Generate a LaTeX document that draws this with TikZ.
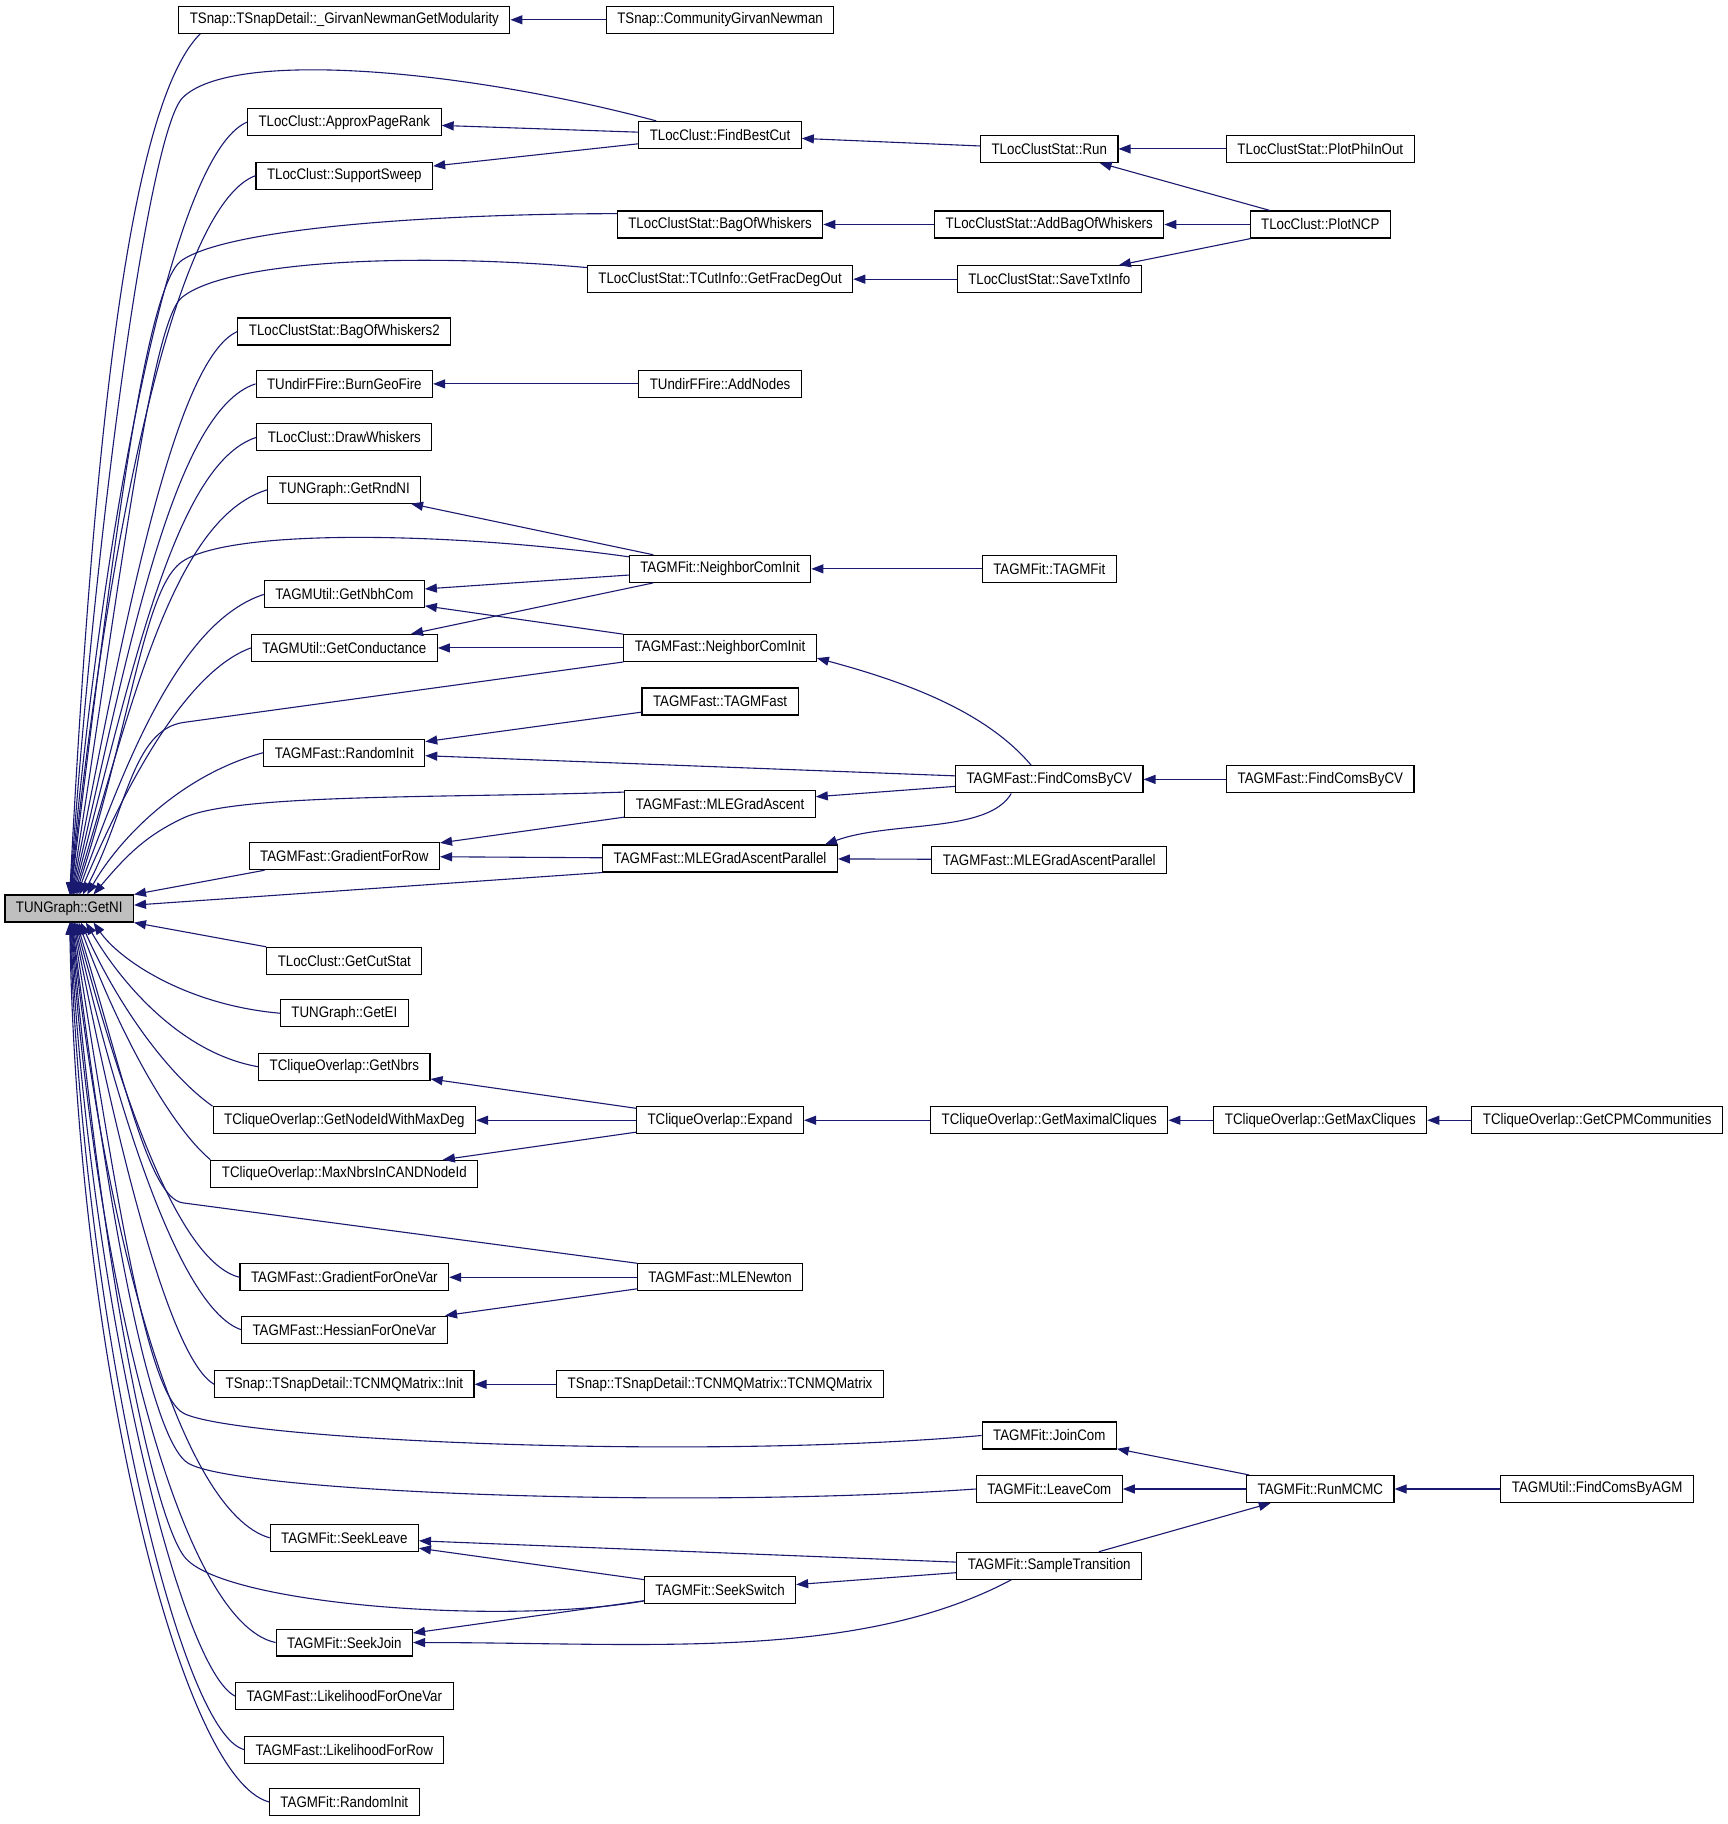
\documentclass[tikz,border=0pt]{standalone}
\usepackage{fontspec}
\newfontfamily\doxfont{Liberation Sans}[FakeStretch=0.87]
\usetikzlibrary{arrows.meta}
\definecolor{dxedge}{HTML}{191970}
\definecolor{dxroot}{HTML}{BFBFBF}
\tikzset{
  fn/.style={draw=black,line width=1.1pt,fill=white,font=\doxfont\fontsize{15.3pt}{16pt}\selectfont,
    inner xsep=11pt,inner ysep=0pt,minimum height=27pt},
  call/.style={<-,>={Triangle[length=12pt,width=9pt]},color=dxedge,line width=1.1pt}
}
\begin{document}
\begin{tikzpicture}[x=1.1636pt,y=1.1636pt]
 \path[use as bounding box,fill=white] (0,0) rectangle (1485,-1568);

 \node [fn,fill=dxroot] (GetNI) at (59.5,-781) {TUNGraph::GetNI};

 \node [fn] (girvan) at (296,-17) {TSnap::TSnapDetail::\_GirvanNewmanGetModularity};
 \node [fn] (approx) at (296,-105) {TLocClust::ApproxPageRank};
 \node [fn] (sweep) at (296,-151) {TLocClust::SupportSweep};
 \node [fn] (bow2) at (296,-285) {TLocClustStat::BagOfWhiskers2};
 \node [fn] (burn) at (296,-330) {TUndirFFire::BurnGeoFire};
 \node [fn] (drawwh) at (296,-376) {TLocClust::DrawWhiskers};
 \node [fn] (rndni) at (296,-421) {TUNGraph::GetRndNI};
 \node [fn] (nbhcom) at (296,-511) {TAGMUtil::GetNbhCom};
 \node [fn] (conduct) at (296,-557) {TAGMUtil::GetConductance};
 \node [fn] (frandinit) at (296,-647) {TAGMFast::RandomInit};
 \node [fn] (gradrow) at (296,-736) {TAGMFast::GradientForRow};
 \node [fn] (cutstat) at (296,-826) {TLocClust::GetCutStat};
 \node [fn] (getei) at (296,-871) {TUNGraph::GetEI};
 \node [fn] (getnbrs) at (296,-917) {TCliqueOverlap::GetNbrs};
 \node [fn] (maxdeg) at (296,-963) {TCliqueOverlap::GetNodeIdWithMaxDeg};
 \node [fn] (maxnbrs) at (296,-1009) {TCliqueOverlap::MaxNbrsInCANDNodeId};
 \node [fn] (gradvar) at (296,-1098) {TAGMFast::GradientForOneVar};
 \node [fn] (hessvar) at (296,-1143) {TAGMFast::HessianForOneVar};
 \node [fn] (cnminit) at (296,-1190) {TSnap::TSnapDetail::TCNMQMatrix::Init};
 \node [fn] (seekleave) at (296,-1322) {TAGMFit::SeekLeave};
 \node [fn] (seekjoin) at (296,-1412) {TAGMFit::SeekJoin};
 \node [fn] (likevar) at (296,-1458) {TAGMFast::LikelihoodForOneVar};
 \node [fn] (likerow) at (296,-1504) {TAGMFast::LikelihoodForRow};
 \node [fn] (fitrandinit) at (296,-1549) {TAGMFit::RandomInit};

 \node [fn] (gncomm) at (619,-17) {TSnap::CommunityGirvanNewman};
 \node [fn] (bestcut) at (619,-116) {TLocClust::FindBestCut};
 \node [fn] (bow) at (619,-193) {TLocClustStat::BagOfWhiskers};
 \node [fn] (fracdeg) at (619,-240) {TLocClustStat::TCutInfo::GetFracDegOut};
 \node [fn] (addnodes) at (619,-330) {TUndirFFire::AddNodes};
 \node [fn] (fitnci) at (619,-489) {TAGMFit::NeighborComInit};
 \node [fn] (fastnci) at (619,-557) {TAGMFast::NeighborComInit};
 \node [fn] (fasttagm) at (619,-603) {TAGMFast::TAGMFast};
 \node [fn] (mlegrad) at (619,-691) {TAGMFast::MLEGradAscent};
 \node [fn] (mlepar) at (619,-738) {TAGMFast::MLEGradAscentParallel};
 \node [fn] (expand) at (619,-963) {TCliqueOverlap::Expand};
 \node [fn] (mlenewton) at (619,-1098) {TAGMFast::MLENewton};
 \node [fn] (tcnmq) at (619,-1190) {TSnap::TSnapDetail::TCNMQMatrix::TCNMQMatrix};
 \node [fn] (seekswitch) at (619,-1367) {TAGMFit::SeekSwitch};

 \node [fn] (run) at (902,-128) {TLocClustStat::Run};
 \node [fn] (addbow) at (902,-193) {TLocClustStat::AddBagOfWhiskers};
 \node [fn] (savetxt) at (902,-240) {TLocClustStat::SaveTxtInfo};
 \node [fn] (tagmfit) at (902,-489) {TAGMFit::TAGMFit};
 \node [fn] (findcv) at (902,-670) {TAGMFast::FindComsByCV};
 \node [fn] (mlepar2) at (902,-739) {TAGMFast::MLEGradAscentParallel};
 \node [fn] (maximal) at (902,-963) {TCliqueOverlap::GetMaximalCliques};
 \node [fn] (joincom) at (902,-1234) {TAGMFit::JoinCom};
 \node [fn] (leavecom) at (902,-1280) {TAGMFit::LeaveCom};
 \node [fn] (sample) at (902,-1346) {TAGMFit::SampleTransition};

 \node [fn] (plotphi) at (1135,-128) {TLocClustStat::PlotPhiInOut};
 \node [fn] (plotncp) at (1135,-193) {TLocClust::PlotNCP};
 \node [fn] (findcv2) at (1135,-670) {TAGMFast::FindComsByCV};
 \node [fn] (maxcliques) at (1135,-963) {TCliqueOverlap::GetMaxCliques};
 \node [fn] (runmcmc) at (1135,-1280) {TAGMFit::RunMCMC};

 \node [fn] (cpm) at (1373,-963) {TCliqueOverlap::GetCPMCommunities};
 \node [fn] (agm) at (1373,-1280) {TAGMUtil::FindComsByAGM};

 \draw[call] (GetNI.88) .. controls +(87:370) and +(225:90) .. ([xshift=22pt]girvan.south west);
 \draw[call] (GetNI.87) .. controls +(86:330) and +(225:40) .. (157,-84)
   .. controls +(45:60) and +(165:170) .. ([xshift=18pt]bestcut.north west);
 \draw[call] (GetNI.86) .. controls +(85:320) and +(203:70) .. (approx.west);
 \draw[call] (GetNI.85) .. controls +(84:300) and +(200:75) .. (sweep.west);
 \draw[call] (GetNI.84) .. controls +(83:270) and +(215:40) .. (156,-224)
   .. controls +(35:50) and +(180:150) .. (bow.174);
 \draw[call] (GetNI.82) .. controls +(81:250) and +(220:35) .. (156,-256)
   .. controls +(40:50) and +(175:150) .. (fracdeg.175);
 \draw[call] (GetNI.80) .. controls +(79:230) and +(204:60) .. (bow2.west);
 \draw[call] (GetNI.77) .. controls +(77:210) and +(198:75) .. (burn.west);
 \draw[call] (GetNI.74) .. controls +(75:190) and +(198:75) .. (drawwh.west);
 \draw[call] (GetNI.70) .. controls +(73:170) and +(197:85) .. (rndni.west);
 \draw[call] (GetNI.65) .. controls +(72:150) and +(218:40) .. (155,-484)
   .. controls +(38:50) and +(172:150) .. ([yshift=-2pt]fitnci.north west);
 \draw[call] (GetNI.60) .. controls +(70:125) and +(198:75) .. (nbhcom.west);
 \draw[call] (GetNI.54) .. controls +(67:100) and +(200:60) .. (conduct.west);
 \draw[call] (GetNI.46) .. controls +(62:80) and +(188:45) .. (158,-621) -- (fastnci.south west);
 \draw[call] (GetNI.38) .. controls +(60:60) and +(195:70) .. (frandinit.west);
 \draw[call] (GetNI.30) .. controls +(50:45) and +(205:35) .. (158,-703)
   .. controls +(25:50) and +(182:150) .. (mlegrad.173);
 \draw[call] (GetNI.north east) -- (gradrow.190);
 \draw[call] (GetNI.3) -- (mlepar.south west);

 \draw[call] (GetNI.south east) -- (cutstat.north west);
 \draw[call] (GetNI.-30) .. controls +(-55:40) and +(175:80) .. (getei.west);
 \draw[call] (GetNI.-40) .. controls +(-60:55) and +(170:70) .. (getnbrs.west);
 \draw[call] (GetNI.-50) .. controls +(-66:80) and +(145:45) .. (maxdeg.north west);
 \draw[call] (GetNI.-56) .. controls +(-70:100) and +(140:45) .. (maxnbrs.north west);
 \draw[call] (GetNI.-62) .. controls +(-73:130) and +(172:30) .. (157,-1034) -- (mlenewton.north west);
 \draw[call] (GetNI.-66) .. controls +(-75:150) and +(166:55) .. (gradvar.west);
 \draw[call] (GetNI.-70) .. controls +(-77:170) and +(161:55) .. (hessvar.west);
 \draw[call] (GetNI.-73) .. controls +(-79:190) and +(150:45) .. (cnminit.west);
 \draw[call] (GetNI.-76) .. controls +(-81:250) and +(153:35) .. (158,-1215)
   .. controls +(-27:50) and +(185:250) .. (joincom.west);
 \draw[call] (GetNI.-78) .. controls +(-83:280) and +(150:35) .. (162,-1258)
   .. controls +(-30:50) and +(184:250) .. (leavecom.west);
 \draw[call] (GetNI.-80) .. controls +(-84:270) and +(164:80) .. (seekleave.west);
 \draw[call] (GetNI.-82) .. controls +(-85:300) and +(133:40) .. (160,-1340)
   .. controls +(-47:55) and +(190:120) .. (seekswitch.188);
 \draw[call] (GetNI.-84) .. controls +(-86:310) and +(168:84) .. (seekjoin.west);
 \draw[call] (GetNI.-86) .. controls +(-87:330) and +(154:52) .. (likevar.west);
 \draw[call] (GetNI.-87) .. controls +(-88:350) and +(166:57) .. (likerow.west);
 \draw[call] (GetNI.-88) .. controls +(-89:370) and +(165:80) .. (fitrandinit.west);

 \draw[call] (girvan) -- (gncomm);
 \draw[call] (approx) -- (bestcut);
 \draw[call] (sweep) -- (bestcut);
 \draw[call] (bestcut) -- (run);
 \draw[call] (run) -- (plotphi);
 \draw[call] (run) -- (plotncp);
 \draw[call] (bow) -- (addbow);
 \draw[call] (addbow) -- (plotncp);
 \draw[call] (fracdeg) -- (savetxt);
 \draw[call] (savetxt) -- (plotncp);
 \draw[call] (burn) -- (addnodes);
 \draw[call] (rndni) -- (fitnci);
 \draw[call] (nbhcom) -- (fitnci);
 \draw[call] (conduct) -- (fitnci);
 \draw[call] (nbhcom) -- (fastnci);
 \draw[call] (conduct) -- (fastnci);
 \draw[call] (fitnci) -- (tagmfit);
 \draw[call] (fastnci.-6) .. controls +(-15:80) and +(130:60) .. ([xshift=-18pt]findcv.north);
 \draw[call] (frandinit) -- (fasttagm);
 \draw[call] (frandinit) -- (findcv);
 \draw[call] (mlegrad) -- (findcv);
 \draw[call] (findcv) -- (findcv2);
 \draw[call] (gradrow) -- (mlegrad);
 \draw[call] (gradrow) -- (mlepar);
 \draw[call] ([xshift=-13pt]mlepar.north east) .. controls +(20:60) and +(-120:40) .. ([xshift=-38pt]findcv.south);
 \draw[call] (mlepar) -- (mlepar2);
 \draw[call] (getnbrs) -- (expand);
 \draw[call] (maxdeg) -- (expand);
 \draw[call] (maxnbrs) -- (expand);
 \draw[call] (expand) -- (maximal);
 \draw[call] (maximal) -- (maxcliques);
 \draw[call] (maxcliques) -- (cpm);
 \draw[call] (gradvar) -- (mlenewton);
 \draw[call] (hessvar) -- (mlenewton);
 \draw[call] (cnminit) -- (tcnmq);
 \draw[call] (joincom) -- (runmcmc);
 \draw[call] (leavecom) -- (runmcmc);
 \draw[call] (runmcmc) -- (agm);
 \draw[call] (runmcmc) -- (sample);
 \draw[call] (seekleave) -- (sample);
 \draw[call] (seekleave) -- (seekswitch);
 \draw[call] (seekswitch) -- (sample);
 \draw[call] (seekjoin) -- (seekswitch);
 \draw[call] (seekjoin.east) .. controls +(0:200) and +(208:150) .. ([xshift=-38pt]sample.south);
\end{tikzpicture}
\end{document}
